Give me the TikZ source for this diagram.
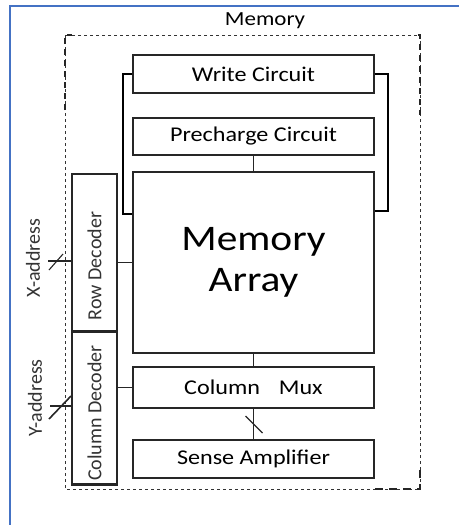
\documentclass[tikz,border=0pt]{standalone}
\usepackage{fontspec}
\setmainfont[FakeStretch=1.15]{Carlito}
\newfontfamily\vfont[FakeStretch=1.0]{Carlito}
\usetikzlibrary{calc}
\definecolor{frameblue}{RGB}{68,114,196}
\tikzset{
  blk/.style={draw=black!85,line width=1.4pt,fill=white,minimum width=241pt,font=\fontsize{21}{23}\selectfont,inner sep=0pt},
  dec/.style={draw=black!85,line width=1.4pt,minimum width=45pt,inner sep=0pt},
  vtext/.style={rotate=90,font=\vfont\fontsize{20}{22}\selectfont,text=black!80},
  wire/.style={black!85,line width=1.1pt}
}
\begin{document}
\begin{tikzpicture}[x=1pt,y=-1pt]
\useasboundingbox(0,0)rectangle(459,525);
% frame
\draw[frameblue,line width=2pt](10,525)--(10,6)--(459,6);
% memory block
\draw[black!80,dashed,line width=0.8pt](65,35)rectangle(420,489);
\draw[black!85,line width=2.2pt,dash pattern=on 6pt off 5pt](65,110)--(65,35)--(72,35);
\draw[black!85,line width=2.2pt,dash pattern=on 6pt off 5pt](418,35)--(420,35)--(420,115);
\draw[black!85,line width=2pt,dash pattern=on 8pt off 6pt](375,489)--(420,489)--(420,470);
\node(mem) at (265,21){\fontsize{20}{22}\selectfont Memory};

\node[blk,minimum height=38pt](write) at (253.5,74){Write Circuit};
\node[blk,minimum height=37pt](pre) at (253.5,136.5){Precharge Circuit};
\node[blk,minimum height=181pt,font=\fontsize{36}{41}\selectfont,align=center](array) at (253.5,262.5){Memory\\Array};
\node[blk,minimum height=41pt](mux) at (253.5,387.5){Column\hspace{0.9em}Mux};
\node[blk,minimum height=38pt](sense) at (253.5,459){Sense Amplifier};

\node[dec,minimum height=158pt](row) at (94.5,253){};
\node[vtext] at (94.5,266){Row Decoder};
\node[dec,minimum height=152pt](col) at (94.5,408){};
\node[vtext] at (94.5,413){Column Decoder};
\draw[black!85,line width=2.4pt](col.north west)--(col.north east);
\draw[black!85,line width=2.4pt](col.south west)--(col.south east);

% write circuit feedback
\draw[black,line width=2.2pt](write.west)--++(-9,0)|-($(array.north west)+(0,43)$);
\draw[black,line width=2.2pt](write.east)--++(13,0)|-($(array.north east)+(0,40)$);

\draw[wire](pre)--(array);
\draw[wire](array)--(mux);
\draw[wire](mux)--(sense);
\draw[wire](row.east|-array.west)--(array.west);
\draw[wire](col.east|-mux.west)--(mux.west);
\coordinate(bus) at ($(mux.south)!0.5!(sense.north)$);
\draw[wire]($(bus)+(-8,-8)$)--($(bus)+(9,9)$);

% address inputs
\coordinate(xin) at (48,261);
\draw[wire](xin)--(row.west|-xin);
\draw[wire]($(xin)+(1,9)$)--($(xin)+(15,-7)$);
\node[vtext] at (33,258){X-address};
\coordinate(yin) at (50,406);
\draw[wire,line width=1.6pt](yin)--(col.west|-yin);
\draw[wire,line width=1.6pt]($(yin)+(-1,13)$)--($(yin)+(21,-10)$);
\node[vtext] at (35,398){Y-address};
\end{tikzpicture}
\end{document}
